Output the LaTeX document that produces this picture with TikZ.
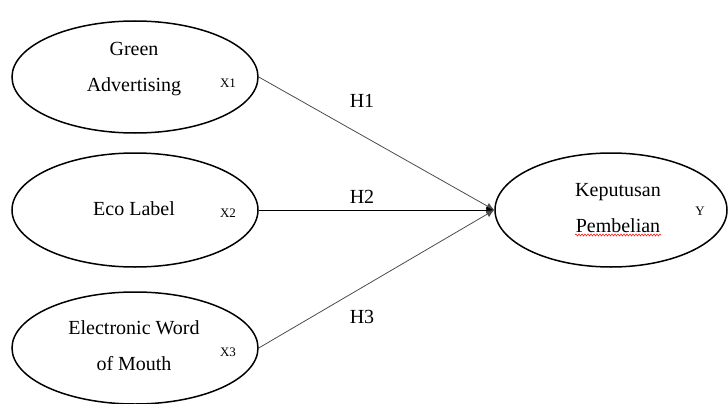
\documentclass[tikz,border=0pt]{standalone}
\usepackage{fontspec}
\setmainfont{Liberation Serif}
\usetikzlibrary{shapes.geometric,arrows.meta,decorations.pathmorphing}
\begin{document}
\begin{tikzpicture}[x=1pt,y=-1pt,
  latent/.style={ellipse,draw=black,line width=1.5pt,inner sep=0pt},
  lbl/.style={font=\fontsize{20}{36}\selectfont,align=center,inner sep=0pt},
  vlbl/.style={font=\fontsize{13}{14}\selectfont,inner sep=0pt},
  hlbl/.style={font=\fontsize{20}{22}\selectfont,inner sep=0pt},
  path/.style={line width=0.8pt,-{Latex[length=8pt,width=7pt]}}]
\useasboundingbox (0,0) rectangle (728,404);
% ellipses
\node[latent,minimum width=246pt,minimum height=112pt] (x1) at (135,77) {};
\node[latent,minimum width=246pt,minimum height=114pt] (x2) at (135,210) {};
\node[latent,minimum width=246pt,minimum height=112pt] (x3) at (135,348) {};
\node[latent,minimum width=232pt,minimum height=114pt] (y) at (611,210) {};
% texts
\node[lbl] (t1) at (134,69) {Green\\Advertising};
\node[lbl] (t2) at (134,209) {Eco Label};
\node[lbl] (t3) at (134,346) {Electronic Word\\of Mouth};
\node[lbl] (ty) at (618,208) {Keputusan\\Pembelian};
\node[vlbl] (v1) at (228,83) {X1};
\node[vlbl] (v2) at (228,213) {X2};
\node[vlbl] (v3) at (228,352) {X3};
\node[vlbl] (vy) at (700,211) {Y};
% connectors
\draw[path,draw=black!70] (x1.east) -- (y.west);
\draw[path,draw=black] (x2.east) -- (y.west);
\draw[path,draw=black!70] (x3.east) -- (y.west);
\node[hlbl] (h1) at (362,101) {H1};
\node[hlbl] (h2) at (362,197) {H2};
\node[hlbl] (h3) at (362,317) {H3};
% spell-check squiggle
\coordinate (sq1) at (575,235);
\coordinate (sq2) at (661,235);
\draw[red,line width=0.5pt,decorate,decoration={snake,amplitude=1pt,segment length=3pt}] (sq1) -- (sq2);
\end{tikzpicture}
\end{document}
